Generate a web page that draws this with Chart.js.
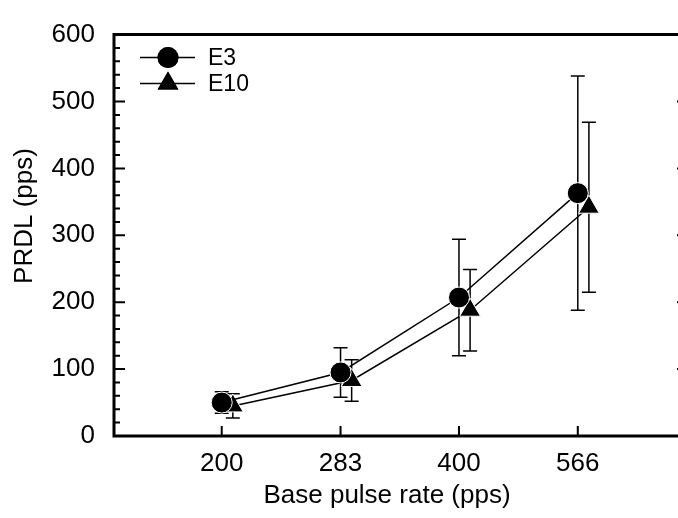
<!DOCTYPE html>
<html>
<head>
<meta charset="utf-8">
<script src="https://cdn.jsdelivr.net/npm/chart.js@4.4.1/dist/chart.umd.min.js"></script>
<style>
    html, body { margin: 0; padding: 0; background: #fff; overflow: hidden; }
    #wrap { position: relative; width: 706px; height: 518px; }
</style>
</head>
<body>
<div id="wrap"><canvas id="chart"></canvas></div>
<script>
// Base pulse rates (x categories, log spaced)
const rates = [200, 283, 400, 566];

// PRDL values
const e3Mean = [50, 95, 207, 363];
const e3Err = [16, 37, 87, 175];
const e10Mean = [45, 83, 188, 342];
const e10Err = [18, 31, 61, 127];

const yTicks = [0, 100, 200, 300, 400, 500, 600];
const seriesNames = ['E3', 'E10'];
const xTitle = 'Base pulse rate (pps)';
const yTitle = 'PRDL (pps)';

// E10 is drawn a little to the right so the bars don't overlap
const e10Shift = 1.033;

const fontFamily = '"Liberation Sans", Arial, sans-serif';

const toPoints = (xs, ys, k) => xs.map((x, i) => ({ x: x * k, y: ys[i] }));

// error bars, frame, inward ticks, titles and the legend
const plotExtras = {
    id: 'plotExtras',
    beforeDatasetsDraw(chart) {
        const ctx = chart.ctx;
        const xs = chart.scales.x;
        const ys = chart.scales.y;
        const sets = [
            { mean: e3Mean, err: e3Err, k: 1 },
            { mean: e10Mean, err: e10Err, k: e10Shift }
        ];
        ctx.save();
        ctx.strokeStyle = '#000';
        ctx.lineWidth = 1.5;
        sets.forEach(s => {
            rates.forEach((r, i) => {
                const px = xs.getPixelForValue(r * s.k);
                const top = ys.getPixelForValue(s.mean[i] + s.err[i]);
                const bot = ys.getPixelForValue(s.mean[i] - s.err[i]);
                ctx.beginPath();
                ctx.moveTo(px, top);
                ctx.lineTo(px, bot);
                ctx.moveTo(px - 7, top);
                ctx.lineTo(px + 7, top);
                ctx.moveTo(px - 7, bot);
                ctx.lineTo(px + 7, bot);
                ctx.stroke();
            });
        });
        ctx.restore();
    },
    afterDatasetsDraw(chart) {
        const ctx = chart.ctx;
        const a = chart.chartArea;
        const xs = chart.scales.x;
        const ys = chart.scales.y;
        ctx.save();
        ctx.strokeStyle = '#000';

        // frame
        ctx.lineWidth = 3;
        ctx.beginPath();
        ctx.moveTo(a.left, a.top);
        ctx.lineTo(a.right, a.top);
        ctx.lineTo(a.right, a.bottom);
        ctx.lineTo(a.left, a.bottom);
        ctx.closePath();
        ctx.stroke();

        // y ticks: majors every 100, minors every 20
        ctx.lineWidth = 2;
        ctx.beginPath();
        for (let v = 0; v <= 600; v += 20) {
            const py = ys.getPixelForValue(v);
            const len = v % 100 === 0 ? 11 : 6;
            ctx.moveTo(a.left, py);
            ctx.lineTo(a.left + len, py);
            if (v % 100 === 0) {
                ctx.moveTo(a.right, py);
                ctx.lineTo(a.right - len, py);
            }
        }
        // x ticks
        rates.forEach(r => {
            const px = xs.getPixelForValue(r);
            ctx.moveTo(px, a.bottom);
            ctx.lineTo(px, a.bottom - 10);
        });
        ctx.stroke();

        // axis titles
        ctx.fillStyle = '#000';
        ctx.font = '26px ' + fontFamily;
        ctx.textAlign = 'center';
        ctx.textBaseline = 'middle';
        ctx.fillText(xTitle, 387, 496);
        ctx.save();
        ctx.translate(25, 216);
        ctx.rotate(-Math.PI / 2);
        ctx.fillText(yTitle, 0, 0);
        ctx.restore();

        // legend
        const lx = a.left + 54;
        chart.data.datasets.forEach((ds, i) => {
            const ly = a.top + 23 + i * 26;
            ctx.lineWidth = 1.5;
            ctx.beginPath();
            ctx.moveTo(a.left + 26, ly);
            ctx.lineTo(a.left + 81, ly);
            ctx.stroke();
            Chart.helpers.drawPoint(ctx, {
                pointStyle: ds.pointStyle,
                radius: ds.pointRadius,
                borderWidth: 0
            }, lx, ly);
            ctx.fillStyle = '#000';
            ctx.fill();
            ctx.font = '23px ' + fontFamily;
            ctx.textBaseline = 'middle';
            ctx.textAlign = 'left';
            ctx.fillText(seriesNames[i], a.left + 94, ly + 1);
        });
        ctx.restore();
    }
};

new Chart(document.getElementById('chart'), {
    type: 'line',
    data: {
        datasets: [{
            label: seriesNames[0],
            data: toPoints(rates, e3Mean, 1),
            borderColor: '#000',
            borderWidth: 1.5,
            pointStyle: 'circle',
            pointRadius: 10.5,
            pointBackgroundColor: '#000',
            pointBorderColor: '#fff',
            pointBorderWidth: 1,
            tension: 0
        }, {
            label: seriesNames[1],
            data: toPoints(rates, e10Mean, e10Shift),
            borderColor: '#000',
            borderWidth: 1.5,
            pointStyle: 'triangle',
            pointRadius: 12,
            pointBackgroundColor: '#000',
            pointBorderColor: '#fff',
            pointBorderWidth: 1,
            tension: 0
        }]
    },
    options: {
        responsive: true,
        maintainAspectRatio: false,
        animation: false,
        layout: { padding: { top: 28, right: 18, left: 0, bottom: 0 } },
        plugins: {
            legend: { display: false },
            tooltip: { enabled: false }
        },
        scales: {
            x: {
                type: 'logarithmic',
                min: 146,
                max: 781,
                grid: { display: false, drawTicks: false },
                border: { display: false },
                afterBuildTicks: s => { s.ticks = rates.map(v => ({ value: v })); },
                afterFit: s => { s.height = 82; },
                ticks: {
                    autoSkip: false,
                    maxRotation: 0,
                    padding: 12,
                    color: '#000',
                    font: { family: fontFamily, size: 26 },
                    callback: v => String(v)
                }
            },
            y: {
                min: 0,
                max: 600,
                grid: { display: false, drawTicks: false },
                border: { display: false },
                afterBuildTicks: s => { s.ticks = yTicks.map(v => ({ value: v })); },
                afterFit: s => { s.width = 114; },
                ticks: {
                    padding: 19,
                    color: '#000',
                    font: { family: fontFamily, size: 26 }
                }
            }
        }
    },
    plugins: [plotExtras]
});
</script>
</body>
</html>
